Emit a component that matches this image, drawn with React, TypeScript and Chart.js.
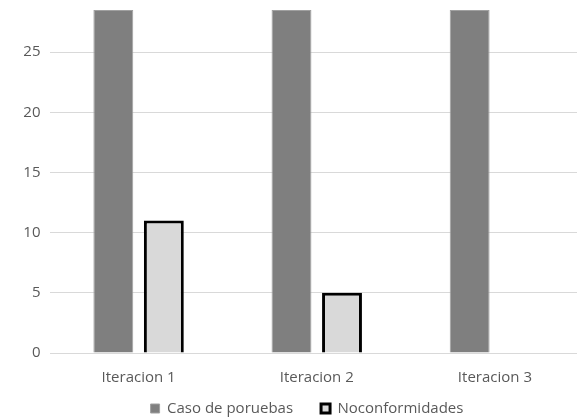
import React, { useEffect, useRef } from "react";
import { Chart, registerables } from "chart.js";

Chart.register(...registerables);

const categories = ["Iteracion 1", "Iteracion 2", "Iteracion 3"];
const casoValues = [28.5, 28.5, 28.5];
const noconfValues = [11, 5, 0];
const yTicks = [0, 5, 10, 15, 20, 25];

const legendShift = {
  id: "legendShift",
  afterLayout(chart: any) {
    const lg = chart.legend;
    if (!lg) return;
    lg.left += 15;
    lg.right += 15;
    lg.top -= 14;
  },
};

export default function App() {
  const ref = useRef<HTMLCanvasElement | null>(null);

  useEffect(() => {
    document.body.style.margin = "0";
    document.body.style.overflow = "hidden";
    const font = { family: "'Open Sans', sans-serif", size: 15 };
    const chart = new Chart(ref.current as HTMLCanvasElement, {
      type: "bar",
      data: {
        labels: categories,
        datasets: [
          {
            label: "Caso de poruebas",
            data: casoValues,
            backgroundColor: "#7f7f7f",
            borderColor: "#a0a0a0",
            borderWidth: 1,
            categoryPercentage: 0.567,
            barPercentage: 0.79,
          },
          {
            label: "Noconformidades",
            data: noconfValues,
            backgroundColor: "#d9d9d9",
            borderColor: "#000000",
            borderWidth: 3,
            categoryPercentage: 0.567,
            barPercentage: 0.79,
          },
        ],
      },
      plugins: [legendShift],
      options: {
        animation: false,
        responsive: false,
        maintainAspectRatio: false,
        layout: { padding: { top: 10, right: 30, left: 0, bottom: 0 } },
        scales: {
          x: {
            grid: { display: false, drawTicks: false },
            border: { display: false },
            ticks: { color: "#595959", font, padding: 16 },
            afterFit: (s: any) => {
              s.height = 34;
            },
          },
          y: {
            min: 0,
            max: 28.5,
            afterFit: (s: any) => {
              s.width = 49.5;
              s.paddingTop = 0;
              s.paddingBottom = 0;
            },
            afterBuildTicks: (s: any) => {
              s.ticks = yTicks.map((v) => ({ value: v }));
            },
            grid: { color: "#d9d9d9", lineWidth: 1, drawTicks: false },
            border: { display: false },
            ticks: { color: "#595959", font, padding: 9 },
          },
        },
        plugins: {
          legend: {
            position: "bottom",
            maxHeight: 32,
            labels: {
              color: "#595959",
              font,
              boxWidth: 9,
              boxHeight: 9,
              padding: 28,
            },
          },
          tooltip: { enabled: false },
        },
      },
    });
    return () => chart.destroy();
  }, []);

  return (
    <div
      style={{
        position: "fixed",
        left: 0,
        top: 0,
        width: 577,
        height: 419,
        overflow: "hidden",
        background: "#fff",
      }}
    >
      <canvas ref={ref} width={614} height={419} style={{ display: "block" }} />
    </div>
  );
}
